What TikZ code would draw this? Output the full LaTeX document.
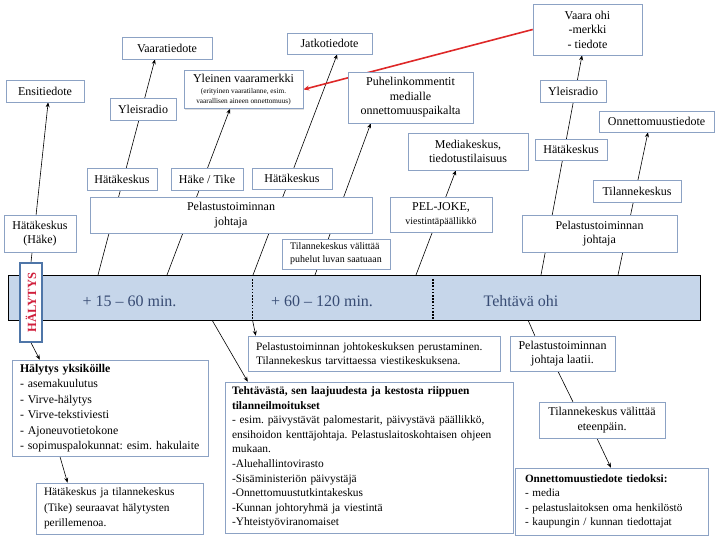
\documentclass[tikz,border=0pt]{standalone}
\usepackage{fontspec}
\setmainfont{Liberation Serif}
\usetikzlibrary{shadows,calc,arrows.meta}
\pgfdeclarelayer{background}
\pgfsetlayers{background,main}
\definecolor{boxline}{RGB}{140,162,196}
\definecolor{barfill}{RGB}{198,214,234}
\definecolor{bartext}{RGB}{55,75,115}
\definecolor{redline}{RGB}{222,40,40}
\definecolor{halred}{RGB}{208,31,60}
\definecolor{halblue}{RGB}{79,118,168}
\newcommand\yltiny{\fontsize{7.3}{8.4}\selectfont}
\frenchspacing
\begin{document}
\frenchspacing
\begin{tikzpicture}[x=1pt,y=-1pt,
  sz/.style 2 args={minimum width=#1pt, minimum height=#2pt},
  box/.style={draw=boxline, fill=white, line width=0.6pt,
    drop shadow={shadow xshift=1.2pt,shadow yshift=-1.2pt,opacity=0.25},
    font=\fontsize{12}{14.5}\selectfont, align=center, inner sep=2pt},
  lbox/.style={box, align=left, inner xsep=8pt, inner ysep=3pt},
  bar/.style={draw=black, fill=barfill, line width=0.8pt, minimum width=692pt, minimum height=45pt, inner sep=0pt},
  bartxt/.style={font=\fontsize{16}{18}\selectfont, text=bartext, inner sep=0pt},
  halbox/.style={draw=halblue, fill=white, line width=1.5pt, inner sep=0pt},
  haltext/.style={font=\bfseries\fontsize{12.5}{15}\selectfont, text=halred, inner sep=0pt},
  conn/.style={line width=0.6pt, black},
  arr/.style={conn, -{Stealth[length=5pt,width=4pt]}},
  redarr/.style={line width=1.6pt, redline, -{Stealth[length=6pt,width=5pt]}},
  dotl/.style={line width=1.6pt, black, dash pattern=on 1.6pt off 1.6pt},
]
\useasboundingbox (0,0) rectangle (720,540);

% time bar
\node[bar] (bar) at (354,297.5) {};
\node[bartxt] (t1) at (129.5,301) {+ 15 – 60 min.};
\node[bartxt] (t2) at (322,301) {+ 60 – 120 min.};
\node[bartxt] (t3) at (521,301) {Tehtävä ohi};
\coordinate (d1t) at (252.5,279);
\coordinate (d1b) at (252.5,320);
\coordinate (d2t) at (433,279);
\coordinate (d2b) at (433,319);
\draw[dotl] (d1t) -- (d1b);
\draw[dotl] (d2t) -- (d2b);

% alarm box
\node[halbox, sz={22}{79}] (hal) at (31,302.5) {};
\node[haltext, rotate=90] (haltxt) at (hal.center) {HÄLYTYS};

% upper boxes
\node[box, sz={78}{22}] (ensi) at (45,91) {Ensitiedote};
\node[box, sz={72}{37}] (hake) at (40,233.5) {Hätäkeskus\\(Häke)};
\node[box, sz={90}{22}] (vaarat) at (167,48) {Vaaratiedote};
\node[box, sz={66}{22}] (yr1) at (143,109) {Yleisradio};
\node[box, sz={70}{22}] (hk1) at (122,179) {Hätäkeskus};
\node[box, sz={72}{22}] (hktk) at (207,179) {Häke / Tike};
\node[box, sz={119}{38}] (yl) at (243.5,89.5)
  {Yleinen vaaramerkki\\[-3pt]{\yltiny (erityinen vaaratilanne, esim.}\\[-5pt]{\yltiny vaarallisen aineen onnettomuus)}};
\node[box, sz={282}{36}] (pj1) at (231,215) {Pelastustoiminnan\\johtaja};
\node[box, sz={80}{21}] (hk2) at (292,178.5) {Hätäkeskus};
\node[box, sz={85}{21}] (jatko) at (329.5,43.5) {Jatkotiedote};
\node[box, sz={108}{30}, font=\fontsize{10}{13}\selectfont, align=left] (tkp) at (336,254)
  {Tilannekeskus välittää\\puhelut luvan saatuaan};
\node[box, sz={125}{51}] (puh) at (410.5,97.5) {Puhelinkommentit\\medialle\\onnettomuuspaikalta};
\node[box, sz={120}{37}] (media) at (468,151.5) {Mediakeskus,\\tiedotustilaisuus};
\node[box, sz={102}{35}] (pel) at (441,214.5) {PEL-JOKE,\\{\fontsize{10}{12}\selectfont viestintäpäällikkö}};
\node[box, sz={109}{51}] (vo) at (587.5,29.5) {Vaara ohi\\-merkki\\- tiedote};
\node[box, sz={66}{22}] (yr2) at (573,91) {Yleisradio};
\node[box, sz={72}{21}] (hk3) at (571,149.5) {Hätäkeskus};
\node[box, sz={155}{37}] (pj2) at (599.5,233.5) {Pelastustoiminnan\\johtaja};
\node[box, sz={115}{21}] (ot) at (656.5,121.5) {Onnettomuustiedote};
\node[box, sz={88}{22}] (tk) at (637,191) {Tilannekeskus};

% lower boxes
\node[lbox, text width=180pt, minimum height=96pt, font=\fontsize{11.8}{15.5}\selectfont] (hy) at (110,408)
  {\mbox{\textbf{Hälytys yksiköille}}\\\mbox{- asemakuulutus}\\\mbox{- Virve-hälytys}\\\mbox{- Virve-tekstiviesti}\\\mbox{- Ajoneuvotietokone}\\\mbox{- sopimuspalokunnat: esim. hakulaite}};
\node[lbox, text width=151pt, minimum height=51pt, font=\fontsize{11.4}{15.5}\selectfont] (hjt) at (119.5,508.5)
  {\mbox{Hätäkeskus ja tilannekeskus}\\\mbox{(Tike) seuraavat hälytysten}\\\mbox{perillemenoa.}};
\node[lbox, text width=274pt, inner xsep=7pt, minimum height=151pt, font=\fontsize{11.4}{14.6}\selectfont] (teht) at (369,457.5)
  {\mbox{\textbf{Tehtävästä, sen laajuudesta ja kestosta riippuen}}\\\mbox{\textbf{tilanneilmoitukset}}\\\mbox{- esim. päivystävät palomestarit, päivystävä päällikkö,}\\\mbox{ensihoidon kenttäjohtaja. Pelastuslaitoskohtaisen ohjeen}\\\mbox{mukaan.}\\\mbox{-Aluehallintovirasto}\\\mbox{-Sisäministeriön päivystäjä}\\\mbox{-Onnettomuustutkintakeskus}\\\mbox{-Kunnan johtoryhmä ja viestintä}\\\mbox{-Yhteistyöviranomaiset}};
\node[lbox, text width=236pt, minimum height=35pt, font=\fontsize{11.4}{14}\selectfont] (jk) at (374,353.5)
  {\mbox{Pelastustoiminnan johtokeskuksen perustaminen.}\\\mbox{Tilannekeskus tarvittaessa viestikeskuksena.}};
\node[box, sz={105}{35}] (pjl) at (562.5,353.5) {Pelastustoiminnan\\johtaja laatii.};
\node[box, sz={126}{36}] (tkv) at (602,420) {Tilannekeskus välittää\\eteenpäin.};
\node[lbox, text width=173pt, inner xsep=10pt, minimum height=67pt, font=\fontsize{11.2}{14.5}\selectfont] (otd) at (611.5,501.5)
  {\mbox{\textbf{Onnettomuustiedote tiedoksi:}}\\\mbox{- media}\\\mbox{- pelastuslaitoksen oma henkilöstö}\\\mbox{- kaupungin / kunnan tiedottajat}};

% connectors (behind boxes)
\begin{pgfonlayer}{background}
\coordinate (s1) at (98,275);
\coordinate (s2) at (167,275);
\coordinate (s3) at (253,275);
\coordinate (s4) at (315,275);
\coordinate (s5) at (416,275);
\coordinate (s6) at (541,275);
\coordinate (s7) at (618,275);
\coordinate (s8) at (212,320);
\coordinate (s9) at (252.5,320);
\coordinate (s10) at (528,320);
\draw[arr] (s1) -- ($(vaarat.south west)!0.367!(vaarat.south east)$);
\draw[arr] (s2) -- ($(yl.south west)!0.387!(yl.south east)$);
\draw[arr] (s3) -- ($(jatko.south west)!0.59!(jatko.south east)$);
\draw[arr] (s4) -- ($(puh.south west)!0.184!(puh.south east)$);
\draw[arr] (s5) -- ($(media.south west)!0.4!(media.south east)$);
\draw[arr] (s6) -- ($(vo.south west)!0.45!(vo.south east)$);
\draw[arr] (s7) -- ($(ot.south west)!0.426!(ot.south east)$);
\draw[arr] (hal.north) -- ($(ensi.south west)!0.54!(ensi.south east)$);
\draw[arr] (hal.south) -- ($(hy.north west)!0.143!(hy.north east)$);
\draw[arr] ($(hy.south west)!0.245!(hy.south east)$) -- ($(hjt.north west)!0.19!(hjt.north east)$);
\draw[arr] (s8) -- ($(teht.north west)!0.08!(teht.north east)$);
\draw[arr] (s9) -- ($(jk.north west)!0.032!(jk.north east)$);
\draw[conn] (s10) -- ($(pjl.north west)!0.238!(pjl.north east)$);
\draw[conn] ($(pjl.south west)!0.457!(pjl.south east)$) -- ($(tkv.north west)!0.27!(tkv.north east)$);
\draw[arr] ($(tkv.south west)!0.46!(tkv.south east)$) -- ($(otd.north west)!0.497!(otd.north east)$);
\draw[redarr] (vo.west) -- (yl.east);
\end{pgfonlayer}
\end{tikzpicture}
\end{document}
